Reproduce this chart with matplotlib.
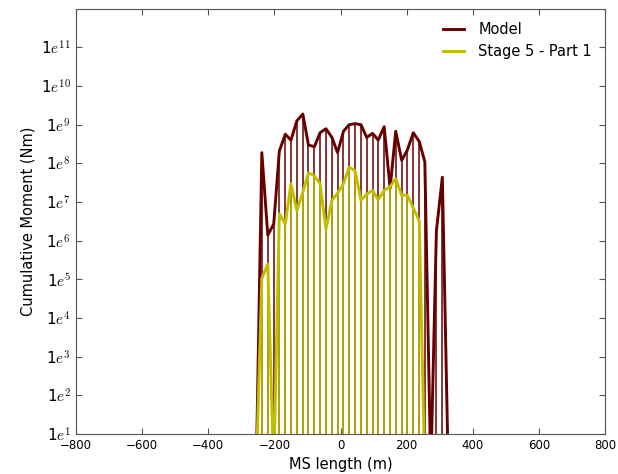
import numpy as np
import matplotlib
matplotlib.use('Agg')
import matplotlib.pyplot as plt
from matplotlib.ticker import FixedLocator, NullLocator

plt.rcParams['mathtext.fontset'] = 'cm'

# position along the MS (m)
ms_x = [-255, -238, -220, -202, -185, -167, -150, -132, -114, -97, -79, -62,
        -44, -26, -9, 9, 26, 44, 62, 79, 97, 114, 132, 150, 167, 185, 202,
        220, 238, 255, 273, 290, 308, 326]

# cumulative moment, model (Nm)
model = [1, 1.9e8, 1.4e6, 2.7e6, 2.1e8, 5.7e8, 4e8, 1.26e9, 1.9e9, 3e8,
         2.7e8, 6.2e8, 7.9e8, 4.7e8, 1.9e8, 6.8e8, 1e9, 1.07e9, 1e9, 4.7e8,
         6e8, 4e8, 8.9e8, 2.3e7, 6.8e8, 1.2e8, 2.2e8, 6.2e8, 3.7e8, 1.1e8,
         1, 1.8e6, 4.4e7, 1]

# cumulative moment, stage 5 part 1 (Nm)
stage5 = [1, 1.05e5, 2.5e5, 1, 5e6, 2.7e6, 3e7, 6e6, 1.8e7, 5.7e7, 4.8e7,
          3e7, 2e6, 1.1e7, 1.7e7, 3e7, 8e7, 6.5e7, 1.1e7, 1.6e7, 2e7, 1.15e7,
          2e7, 2.5e7, 4e7, 1.5e7, 1.5e7, 7e6, 3.3e6, 1, 1, 1, 1, 1]

decades = list(range(1, 12))

red = '#660000'
yel = '#bfbf00'

fig = plt.figure(figsize=(6.18, 4.74), dpi=100)
ax = fig.add_axes([0.123, 0.0844, 0.856, 0.897])
ax.set_yscale('log')

ax.vlines(ms_x, 1, model, color=red, lw=1.3, alpha=0.85)
ax.plot(ms_x, model, color=red, lw=2.1, label='Model')
ax.vlines(ms_x, 1, stage5, color=yel, lw=1.3, alpha=0.85)
ax.plot(ms_x, stage5, color=yel, lw=2.1, label='Stage 5 - Part 1')

ax.set_xlim(-800, 800)
ax.set_ylim(10, 1e12)
ax.set_xticks([-800, -600, -400, -200, 0, 200, 400, 600, 800])
ax.yaxis.set_major_locator(FixedLocator([10.0 ** d for d in decades]))
ax.yaxis.set_minor_locator(NullLocator())
ax.set_yticklabels(['1$e^{%d}$' % d for d in decades], fontsize=11)
ax.tick_params(axis='x', labelsize=8.5)
ax.tick_params(direction='in', top=True, right=True, length=4, color='#555555')
for s in ax.spines.values():
    s.set_color('#555555')

ax.set_xlabel('MS length (m)', fontsize=10.5)
ax.set_ylabel('Cumulative Moment (Nm)', fontsize=10.5)
ax.legend(loc='upper right', frameon=False, fontsize=10.5,
          handlelength=1.4, handletextpad=1.0)

fig.savefig('out.png', dpi=100)
